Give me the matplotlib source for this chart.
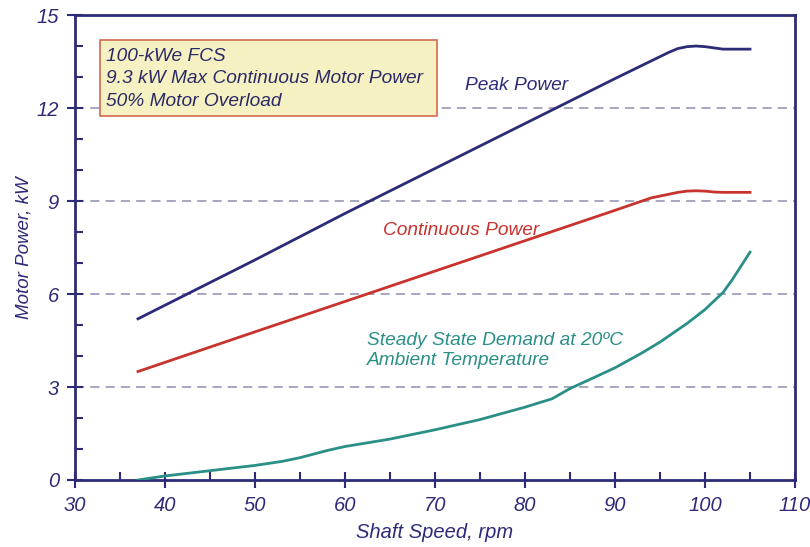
import numpy as np
import matplotlib.pyplot as plt
from matplotlib.patches import Rectangle
from matplotlib.ticker import MultipleLocator

# values
speed_peak = [37, 50, 60, 70, 80, 90, 96, 97, 98, 99, 100, 101, 102, 105]
peak_power = [5.2, 7.1, 8.6, 10.05, 11.5, 12.95, 13.8, 13.92, 13.98, 14.0, 13.98, 13.94, 13.9, 13.9]

speed_cont = [37, 50, 60, 70, 80, 90, 94, 96, 97, 98, 99, 100, 101, 102, 105]
cont_power = [3.5, 4.78, 5.76, 6.74, 7.72, 8.7, 9.1, 9.22, 9.28, 9.32, 9.33, 9.32, 9.29, 9.28, 9.28]

speed_ss = [37, 40, 45, 50, 53, 55, 58, 60, 65, 70, 75, 80, 83, 85, 88, 90, 93, 95, 98, 100, 102, 103, 104, 105]
ss_power = [0.0, 0.13, 0.3, 0.47, 0.6, 0.72, 0.95, 1.08, 1.32, 1.62, 1.95, 2.35, 2.62, 2.95, 3.35, 3.62, 4.1, 4.45, 5.05, 5.5, 6.05, 6.45, 6.9, 7.35]

x_ticks = [30, 40, 50, 60, 70, 80, 90, 100, 110]
y_ticks = [0, 3, 6, 9, 12, 15]
box_lines = ["100-kWe FCS", "9.3 kW Max Continuous Motor Power", "50% Motor Overload"]

navy = "#2d2b78"
red = "#c8332e"
teal = "#2a8f87"
grid_c = "#8e8eae"
plt.rcParams['font.family'] = ["Liberation Sans", "DejaVu Sans"]

fig = plt.figure(figsize=(8.1, 5.47), dpi=100)
ax = fig.add_axes([0.0926, 0.1225, 0.8889, 0.85])

for y in [3, 6, 9, 12]:
    ax.axhline(y, color=grid_c, lw=1.1, dashes=(6, 4), zorder=1)

ax.plot(speed_peak, peak_power, color=navy, lw=2.0, zorder=3)
ax.plot(speed_cont, cont_power, color=red, lw=2.0, zorder=3)
ax.plot(speed_ss, ss_power, color=teal, lw=2.0, zorder=3)

ax.set_xlim(30, 110)
ax.set_ylim(0, 15)
ax.set_xticks(x_ticks)
ax.set_yticks(y_ticks)
ax.xaxis.set_minor_locator(MultipleLocator(5))
ax.yaxis.set_minor_locator(MultipleLocator(1))
ax.tick_params(which='major', direction='inout', length=11, width=1.5, color=navy,
               labelcolor=navy, labelsize=14.5, pad=6)
ax.tick_params(which='minor', direction='in', length=6, width=1.5, color=navy)
for lab in ax.get_xticklabels() + ax.get_yticklabels():
    lab.set_style('italic')

for s in ax.spines.values():
    s.set_color(navy)
    s.set_linewidth(2.0)

ax.set_xlabel("Shaft Speed, rpm", color=navy, fontsize=14.5, style='italic', labelpad=6)
ax.set_ylabel("Motor Power, kW", color=navy, fontsize=13.5, style='italic', labelpad=3)

# info box
ax.add_patch(Rectangle((0.035, 0.783), 0.468, 0.163, transform=ax.transAxes,
                       facecolor="#f6f1c3", edgecolor="#d36a4c", lw=1.2, zorder=4))
for txt, yy in zip(box_lines, [13.66, 12.94, 12.2]):
    ax.text(33.4, yy, txt, color="#2c2a66", fontsize=13.8, style='italic',
            va='center', ha='left', zorder=5)

ax.text(73.3, 12.74, "Peak Power", color=navy, fontsize=13.8, style='italic', va='center')
ax.text(64.2, 8.06, "Continuous Power", color=red, fontsize=13.8, style='italic', va='center')
ax.text(62.4, 4.18, "Steady State Demand at 20\u00baC\nAmbient Temperature", color=teal,
        fontsize=13.8, style='italic', va='center', linespacing=1.2)

fig.savefig("out.png", dpi=100)
